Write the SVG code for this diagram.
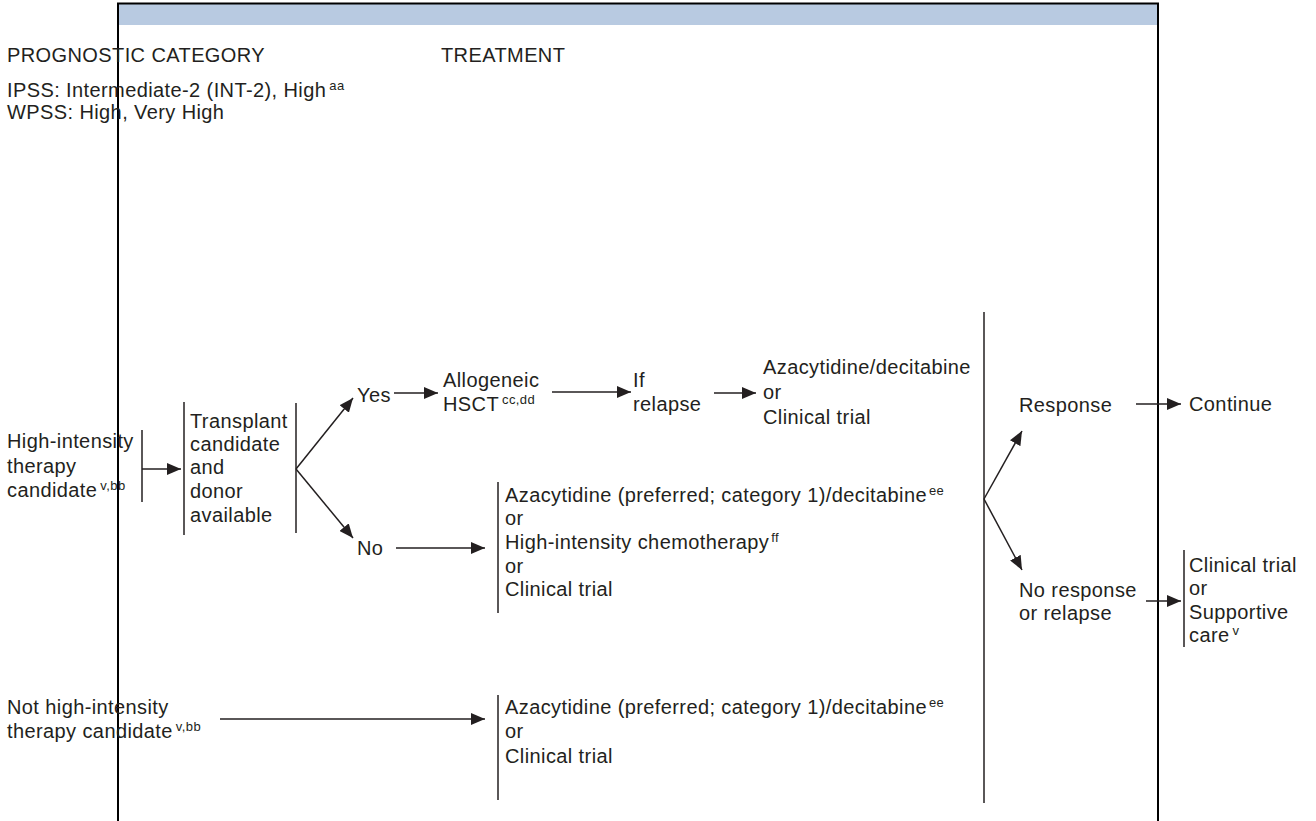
<svg xmlns="http://www.w3.org/2000/svg" width="1316" height="821" viewBox="0 0 1316 821">
<defs>
<marker id="ah" markerUnits="userSpaceOnUse" markerWidth="15" markerHeight="12" refX="14" refY="6" orient="auto">
<path d="M0,0 L14,6 L0,12 Z" fill="#231f20"/>
</marker>
<style>
text{font-family:"Liberation Sans",Arial,sans-serif;font-size:20px;fill:#231f20;letter-spacing:0.4px}
.sup{font-size:13px}
.ln{stroke:#231f20;stroke-width:1.5;fill:none}
.ar{stroke:#231f20;stroke-width:1.5;fill:none;marker-end:url(#ah)}
</style>
</defs>
<rect width="1316" height="821" fill="#ffffff"/>
<g id="frame">
<rect x="119" y="4" width="1038" height="21" fill="#b8cae1"/>
<path d="M118,821 V3.5 H1158 V821" fill="none" stroke="#000" stroke-width="2"/>
</g>
<g id="headers">
<text x="7" y="62">PROGNOSTIC CATEGORY</text>
<text x="441" y="62">TREATMENT</text>
<text x="7" y="97">IPSS: Intermediate-2 (INT-2), High<tspan class="sup" dx="3" dy="-7">aa</tspan></text>
<text x="7" y="119">WPSS: High, Very High</text>
</g>
<g id="n-high">
<text x="7" y="448">High-intensity</text>
<text x="7" y="473">therapy</text>
<text x="7" y="497">candidate<tspan class="sup" dx="3" dy="-7">v,bb</tspan></text>
<line class="ln" x1="142" y1="430" x2="142" y2="502"/>
</g>
<g id="n-transplant">
<line class="ln" x1="184" y1="402" x2="184" y2="535"/>
<line class="ln" x1="296" y1="403" x2="296" y2="533"/>
<text x="190" y="428">Transplant</text>
<text x="190" y="451">candidate</text>
<text x="190" y="474">and</text>
<text x="190" y="498">donor</text>
<text x="190" y="522">available</text>
</g>
<g id="n-yes"><text x="357" y="402">Yes</text></g>
<g id="n-hsct">
<text x="443" y="387">Allogeneic</text>
<text x="443" y="411">HSCT<tspan class="sup" dx="3" dy="-7">cc,dd</tspan></text>
</g>
<g id="n-ifrelapse">
<text x="633" y="387">If</text>
<text x="633" y="411">relapse</text>
</g>
<g id="n-aza1">
<text x="763" y="374">Azacytidine/decitabine</text>
<text x="763" y="399">or</text>
<text x="763" y="424">Clinical trial</text>
</g>
<g id="n-no"><text x="357" y="555">No</text></g>
<g id="n-aza2">
<line class="ln" x1="498" y1="482" x2="498" y2="613"/>
<text x="505" y="502">Azacytidine (preferred; category 1)/decitabine<tspan class="sup" dx="2" dy="-7">ee</tspan></text>
<text x="505" y="525">or</text>
<text x="505" y="549">High-intensity chemotherapy<tspan class="sup" dx="2" dy="-7">ff</tspan></text>
<text x="505" y="573">or</text>
<text x="505" y="596">Clinical trial</text>
</g>
<g id="n-response"><text x="1019" y="412">Response</text></g>
<g id="n-continue"><text x="1189" y="411">Continue</text></g>
<g id="n-noresponse">
<text x="1019" y="597">No response</text>
<text x="1019" y="620">or relapse</text>
</g>
<g id="n-supportive">
<line class="ln" x1="1184" y1="550" x2="1184" y2="647"/>
<text x="1189" y="572">Clinical trial</text>
<text x="1189" y="595">or</text>
<text x="1189" y="619">Supportive</text>
<text x="1189" y="642">care<tspan class="sup" dx="3" dy="-7">v</tspan></text>
</g>
<g id="n-nothigh">
<text x="7" y="714">Not high-intensity</text>
<text x="7" y="738">therapy candidate<tspan class="sup" dx="3" dy="-7">v,bb</tspan></text>
</g>
<g id="n-aza3">
<line class="ln" x1="498" y1="695" x2="498" y2="800"/>
<text x="505" y="714">Azacytidine (preferred; category 1)/decitabine<tspan class="sup" dx="2" dy="-7">ee</tspan></text>
<text x="505" y="738">or</text>
<text x="505" y="763">Clinical trial</text>
</g>
<g id="connectors">
<line class="ar" x1="142" y1="469" x2="181" y2="469"/>
<line class="ar" x1="296" y1="469" x2="353" y2="398"/>
<line class="ar" x1="296" y1="469" x2="353" y2="538"/>
<line class="ar" x1="394" y1="393" x2="438" y2="393"/>
<line class="ar" x1="552" y1="392" x2="631" y2="392"/>
<line class="ar" x1="714" y1="393" x2="756" y2="393"/>
<line class="ar" x1="396" y1="548" x2="485" y2="548"/>
<line class="ln" x1="984" y1="312" x2="984" y2="803"/>
<line class="ar" x1="984" y1="499" x2="1022" y2="431"/>
<line class="ar" x1="984" y1="499" x2="1022" y2="570"/>
<line class="ar" x1="1136" y1="404" x2="1181" y2="404"/>
<line class="ar" x1="1146" y1="601" x2="1181" y2="601"/>
<line class="ar" x1="220" y1="719" x2="485" y2="719"/>
</g>
</svg>
